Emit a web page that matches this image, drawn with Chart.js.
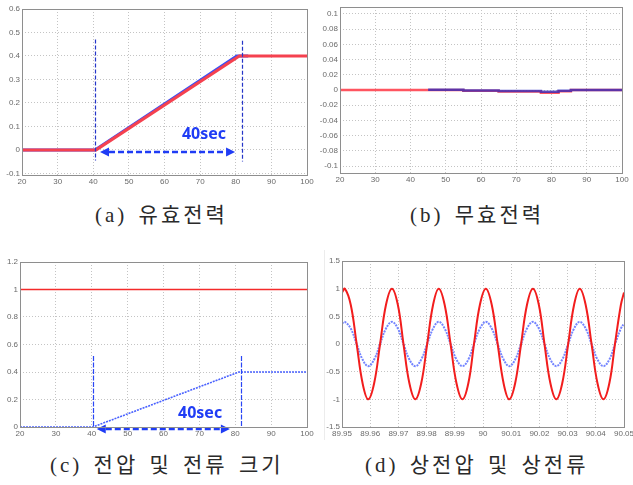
<!DOCTYPE html>
<html><head><meta charset="utf-8">
<script src="https://cdn.jsdelivr.net/npm/chart.js@4"></script>
<style>
html,body{margin:0;padding:0;background:#fff;}
#wrap{position:relative;width:633px;height:485px;overflow:hidden;background:#fff;}
.pane{position:absolute;}
.pane canvas{display:block;}
.cap{position:absolute;font-family:"Liberation Serif","Noto Sans CJK KR",serif;font-size:21px;line-height:24px;color:#2a2a2a;letter-spacing:3px;word-spacing:3px;white-space:nowrap;}
.sep{position:absolute;background:#ececec;width:1px;}
</style></head>
<body><div id="wrap">
<div class="pane" style="left:0;top:0"><canvas id="ca" width="316" height="190"></canvas></div>
<div class="pane" style="left:316px;top:0"><canvas id="cb" width="317" height="190"></canvas></div>
<div class="pane" style="left:0;top:250px"><canvas id="cc" width="316" height="190"></canvas></div>
<div class="pane" style="left:316px;top:250px"><canvas id="cd" width="317" height="190"></canvas></div>
<div class="sep" style="left:324px;top:250px;height:190px"></div>
<div class="cap" style="left:95px;top:203px">(a) 유효전력</div>
<div class="cap" style="left:410px;top:203px">(b) 무효전력</div>
<div class="cap" style="left:50px;top:453px">(c) 전압 및 전류 크기</div>
<div class="cap" style="left:365px;top:453px">(d) 상전압 및 상전류</div>
</div>
<script>
// ---------- data ----------
// (a) active power
const aTimeRed = [20, 40.8, 81, 100];
const aPowerRed = [0, 0, 0.4, 0.4];
const aTimeBlue = [20, 40.5, 80.3, 83.5];
const aPowerBlue = [0, 0, 0.4, 0.4];
const aMarkerX = [40.5, 81.7];
const aMarkerTop = [0.47, 0.465];
const aMarkerBottom = [-0.045, -0.05];
const aArrow = [41.9, 79.8, -0.011];
const aNote = ['40sec', 71.1, 0.064];

// (b) reactive power
const bTimeRed = [20, 55, 55, 65, 65, 77, 77, 82, 82, 85.5, 85.5, 100];
const bPowerRed = [0, 0, -0.001, -0.001, -0.002, -0.002, -0.0035, -0.0035, -0.0015, -0.0015, 0, 0];
const bTimeBlue = [45, 55, 55, 65, 65, 77, 77, 82, 82, 85.5, 85.5, 100];
const bPowerBlue = [0.0003, 0.0003, -0.0006, -0.0006, -0.0012, -0.0012, -0.0022, -0.0022, -0.001, -0.001, 0, 0];

// (c) voltage / current magnitude
const cTimeRed = [20, 100];
const cVoltage = [1, 1];
const cTimeBlue = [20, 40.3, 81, 100];
const cCurrent = [0, 0, 0.4, 0.4];
const cMarkerX = [40.3, 81.5];
const cMarkerTop = [0.516, 0.516];
const cMarkerBottom = [0, 0];
const cArrow = [41.4, 78.5, -0.012];
const cNote = ['40sec', 70.2, 0.1];

// (d) phase voltage / phase current
const dTime = [89.95,
  89.951, 89.9531, 89.9552, 89.9573, 89.9593, 89.9614, 89.9635, 89.9656,
  89.9677, 89.9698, 89.9718, 89.9739, 89.976, 89.9781, 89.9802, 89.9823,
  89.9843, 89.9864, 89.9885, 89.9906, 89.9927, 89.9948, 89.9968, 89.9989,
  90.001, 90.0031, 90.0052, 90.0073, 90.0093, 90.0114, 90.0135, 90.0156,
  90.0177, 90.0198, 90.0218, 90.0239, 90.026, 90.0281, 90.0302, 90.0323,
  90.0343, 90.0364, 90.0385, 90.0406, 90.0427, 90.0448, 90.0468, 90.0489,
  90.05];
const dVoltage = [0.93,
  1, 0.71, 0, -0.71, -1, -0.71, 0, 0.71,
  1, 0.71, 0, -0.71, -1, -0.71, 0, 0.71,
  1, 0.71, 0, -0.71, -1, -0.71, 0, 0.71,
  1, 0.71, 0, -0.71, -1, -0.71, 0, 0.71,
  1, 0.71, 0, -0.71, -1, -0.71, 0, 0.71,
  1, 0.71, 0, -0.71, -1, -0.71, 0, 0.71,
  0.93];
const dCurrent = [0.37,
  0.4, 0.28, 0, -0.28, -0.4, -0.28, 0, 0.28,
  0.4, 0.28, 0, -0.28, -0.4, -0.28, 0, 0.28,
  0.4, 0.28, 0, -0.28, -0.4, -0.28, 0, 0.28,
  0.4, 0.28, 0, -0.28, -0.4, -0.28, 0, 0.28,
  0.4, 0.28, 0, -0.28, -0.4, -0.28, 0, 0.28,
  0.4, 0.28, 0, -0.28, -0.4, -0.28, 0, 0.28,
  0.37];

// tick values and labels
const timeTicks = [20, 30, 40, 50, 60, 70, 80, 90, 100];
const timeLabels = ['20', '30', '40', '50', '60', '70', '80', '90', '100'];
const aYTicks = [-0.1, 0, 0.1, 0.2, 0.3, 0.4, 0.5, 0.6];
const aYLabels = ['-0.1', '0', '0.1', '0.2', '0.3', '0.4', '0.5', '0.6'];
const bYTicks = [-0.1, -0.08, -0.06, -0.04, -0.02, 0, 0.02, 0.04, 0.06, 0.08, 0.1];
const bYLabels = ['-0.1', '-0.08', '-0.06', '-0.04', '-0.02', '0', '0.02', '0.04', '0.06', '0.08', '0.1'];
const cYTicks = [0, 0.2, 0.4, 0.6, 0.8, 1, 1.2];
const cYLabels = ['0', '0.2', '0.4', '0.6', '0.8', '1', '1.2'];
const dYTicks = [-1.5, -1, -0.5, 0, 0.5, 1, 1.5];
const dYLabels = ['-1.5', '-1', '-0.5', '0', '0.5', '1', '1.5'];
const dXTicks = [89.95, 89.96, 89.97, 89.98, 89.99, 90, 90.01, 90.02, 90.03, 90.04, 90.05];
const dXLabels = ['89.95', '89.96', '89.97', '89.98', '89.99', '90', '90.01', '90.02', '90.03', '90.04', '90.05'];

// ---------- drawing ----------
const pts = (xs, ys) => xs.map((t, i) => ({x: t, y: ys[i]}));
const ANNO = '#1f3cf5';
const marks = {};

const marksPlugin = {
  id: 'marks',
  afterDatasetsDraw(chart) {
    const m = marks[chart.canvas.id];
    if (!m) return;
    const {ctx, scales: {x, y}} = chart;
    ctx.save();
    if (m.vx) {
      ctx.strokeStyle = m.vColor; ctx.lineWidth = 1.2; ctx.setLineDash(m.vDash);
      m.vx.forEach((v, i) => {
        const px = Math.round(x.getPixelForValue(v)) + 0.5;
        ctx.beginPath();
        ctx.moveTo(px, y.getPixelForValue(m.vTop[i]));
        ctx.lineTo(px, y.getPixelForValue(m.vBottom[i]));
        ctx.stroke();
      });
    }
    if (m.arrow) {
      const x0 = x.getPixelForValue(m.arrow[0]), x1 = x.getPixelForValue(m.arrow[1]);
      const py = Math.round(y.getPixelForValue(m.arrow[2]));
      const hl = 9, hw = 4.5;
      ctx.strokeStyle = ANNO; ctx.fillStyle = ANNO; ctx.lineWidth = 2.5; ctx.setLineDash([6, 3]);
      ctx.beginPath(); ctx.moveTo(x0 + hl, py); ctx.lineTo(x1 - hl, py); ctx.stroke();
      ctx.setLineDash([]);
      ctx.beginPath(); ctx.moveTo(x0, py); ctx.lineTo(x0 + hl, py - hw); ctx.lineTo(x0 + hl, py + hw); ctx.closePath(); ctx.fill();
      ctx.beginPath(); ctx.moveTo(x1, py); ctx.lineTo(x1 - hl, py - hw); ctx.lineTo(x1 - hl, py + hw); ctx.closePath(); ctx.fill();
    }
    if (m.note) {
      ctx.fillStyle = ANNO;
      ctx.font = 'bold 16px "Noto Sans", "Open Sans", sans-serif';
      ctx.textAlign = 'center'; ctx.textBaseline = 'middle';
      ctx.fillText(m.note[0], x.getPixelForValue(m.note[1]), y.getPixelForValue(m.note[2]));
    }
    ctx.restore();
  },
  afterDraw(chart) {
    const {ctx, chartArea: a} = chart;
    ctx.save();
    ctx.strokeStyle = '#8e8e8e'; ctx.lineWidth = 1; ctx.setLineDash([]);
    ctx.strokeRect(Math.round(a.left) + 0.5, Math.round(a.top) + 0.5, Math.round(a.right - a.left), Math.round(a.bottom - a.top));
    ctx.restore();
  }
};

const tickFont = {family: '"Liberation Sans", Arial, sans-serif', size: 8};
function axis(range, vals, labels, fit) {
  return {
    type: 'linear', min: range[0], max: range[1],
    afterBuildTicks: s => { s.ticks = vals.map(v => ({value: v})); },
    afterFit: fit,
    ticks: {autoSkip: false, maxRotation: 0, minRotation: 0, padding: 2, font: tickFont, color: '#6a6a6a',
            callback: (v, i) => labels[i]},
    grid: {color: '#c4c4c4', lineWidth: 1, drawTicks: false},
    border: {display: false, dash: [1, 2]}
  };
}

function build(id, datasets, xr, xv, xl, yr, yv, yl, box) {
  return new Chart(document.getElementById(id), {
    type: 'line',
    data: {datasets},
    options: {
      responsive: false, animation: false, devicePixelRatio: 1,
      layout: {padding: {top: box.top, right: box.right, left: 0, bottom: 0}},
      plugins: {legend: {display: false}, tooltip: {enabled: false}},
      elements: {point: {radius: 0}},
      scales: {
        x: axis(xr, xv, xl, s => { s.height = box.bottom; s.paddingLeft = 0; s.paddingRight = 0; }),
        y: axis(yr, yv, yl, s => { s.width = box.left; s.paddingTop = 0; s.paddingBottom = 0; })
      }
    },
    plugins: [marksPlugin]
  });
}

// (a)
marks.ca = {vx: aMarkerX, vTop: aMarkerTop, vBottom: aMarkerBottom, vColor: '#2535c8', vDash: [4, 2], arrow: aArrow, note: aNote};
build('ca', [
  {data: pts(aTimeRed, aPowerRed), borderColor: '#f5414f', borderWidth: 3, tension: 0},
  {data: pts(aTimeBlue, aPowerBlue), borderColor: '#3a4ef5', borderWidth: 3, tension: 0}
], [20, 100], timeTicks, timeLabels, [-0.107, 0.6], aYTicks, aYLabels, {left: 22, right: 9, top: 9, bottom: 15});

// (b)
build('cb', [
  {data: pts(bTimeBlue, bPowerBlue), borderColor: 'rgba(40,40,190,0.75)', borderWidth: 2.5, tension: 0},
  {data: pts(bTimeRed, bPowerRed), borderColor: '#ff5560', borderWidth: 2.5, tension: 0}
], [20, 100], timeTicks, timeLabels, [-0.109, 0.109], bYTicks, bYLabels, {left: 24, right: 11, top: 7, bottom: 17});

// (c)
marks.cc = {vx: cMarkerX, vTop: cMarkerTop, vBottom: cMarkerBottom, vColor: '#2a46f5', vDash: [5, 1.5], arrow: cArrow, note: cNote};
build('cc', [
  {data: pts(cTimeRed, cVoltage), borderColor: '#f42a2a', borderWidth: 1.6, tension: 0},
  {data: pts(cTimeBlue, cCurrent), borderColor: '#4a62ff', borderWidth: 1.6, borderDash: [2, 1], tension: 0}
], [20, 100], timeTicks, timeLabels, [0, 1.2], cYTicks, cYLabels, {left: 20, right: 9, top: 12, bottom: 13});

// (d)
build('cd', [
  {data: pts(dTime, dVoltage), borderColor: '#f21d1d', borderWidth: 2, tension: 0.4},
  {data: pts(dTime, dCurrent), borderColor: '#7485ff', borderWidth: 2, borderDash: [2, 1], tension: 0.4}
], [89.95, 90.05], dXTicks, dXLabels, [-1.5, 1.5], dYTicks, dYLabels, {left: 26, right: 9, top: 11, bottom: 13});
</script>
</body></html>
